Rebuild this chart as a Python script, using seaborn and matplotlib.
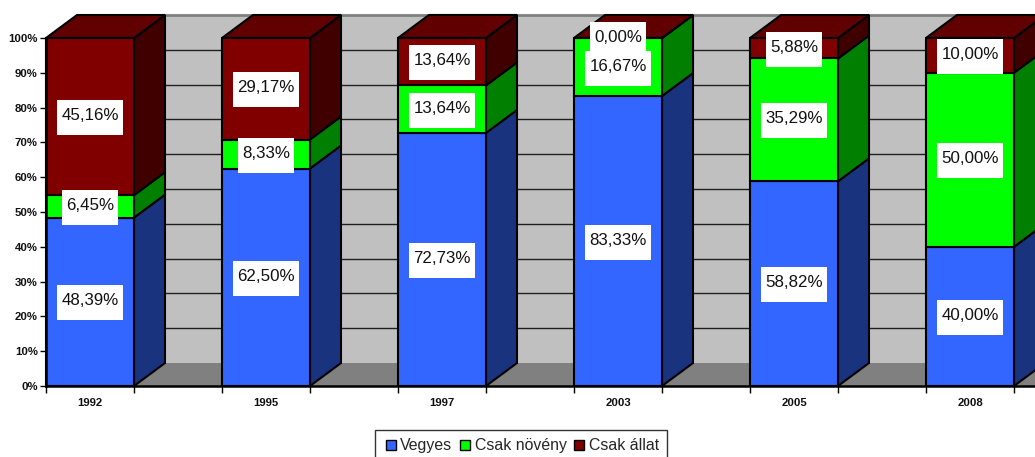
import matplotlib
matplotlib.use('Agg')
import matplotlib.pyplot as plt
from matplotlib.lines import Line2D
from matplotlib.patches import Rectangle
from matplotlib.transforms import IdentityTransform, offset_copy
import seaborn as sns

years = ['1992', '1995', '1997', '2003', '2005', '2008']
vegyes = [48.39, 62.50, 72.73, 83.33, 58.82, 40.00]
noveny = [6.45, 8.33, 13.64, 16.67, 35.29, 50.00]
allat = [45.16, 29.17, 13.64, 0.00, 5.88, 10.00]
series_names = ['Vegyes', 'Csak növény', 'Csak állat']
y_ticks = [0, 10, 20, 30, 40, 50, 60, 70, 80, 90, 100]

front = ['#3366FF', '#00FF00', '#800000']
side = ['#1A337F', '#007F00', '#400000']
top_col = '#600000'

sns.set_style('white')
plt.rcParams['font.family'] = ['Liberation Sans', 'DejaVu Sans']

W, H = 1035, 457
fig = plt.figure(figsize=(W / 100, H / 100), dpi=100)
ax = fig.add_axes([46 / W, (H - 386) / H, (W - 46) / W, 348 / H])
ax.patch.set_alpha(0)

bar_w = 0.5
xmin, xmax = -0.25, (W - 90) / 176
dx = 31 / 176  # depth of the fake 3d, in axis units
dy = 23 / 3.48

# back wall and floor
ax.fill([xmin + dx, xmax + 1, xmax + 1, xmin + dx], [dy, dy, 100 + dy, 100 + dy],
        color='#C0C0C0', lw=0, zorder=0.2, clip_on=False)
ax.fill([xmin, xmax + 1, xmax + 1, xmin + dx], [0, 0, dy, dy],
        color='#808080', lw=0, zorder=0.3, clip_on=False)
for v in y_ticks[1:-1]:
    ax.plot([xmin + dx, xmax + 1], [v + dy, v + dy], color='#202020', lw=1, zorder=0.4, clip_on=False)
ax.plot([xmin + dx, xmax + 1], [100 + dy, 100 + dy], color='#808080', lw=2, zorder=0.4, clip_on=False)

# stacked front faces
bottom = [0.0] * len(years)
columns = [vegyes, noveny, allat]
labels = []
for k, vals in enumerate(columns):
    sns.barplot(x=years, y=vals, bottom=bottom, order=years, color=front[k], saturation=1,
                width=bar_w, edgecolor='black', linewidth=1.5, ax=ax, zorder=3, clip_on=False)
    for i, v in enumerate(vals):
        x1 = i + bar_w / 2
        y0, y1 = bottom[i], bottom[i] + v
        ax.fill([x1, x1 + dx, x1 + dx, x1], [y0, y0 + dy, y1 + dy, y1], facecolor=side[k],
                edgecolor='black', lw=1.5, zorder=2, clip_on=False)
        labels.append((i, (y0 + y1) / 2, f'{v:.2f}%'.replace('.', ','), k))
    bottom = [b + v for b, v in zip(bottom, vals)]

# top faces
for i, b in enumerate(bottom):
    x0, x1 = i - bar_w / 2, i + bar_w / 2
    ax.fill([x0, x1, x1 + dx, x0 + dx], [b, b, b + dy, b + dy], facecolor=top_col,
            edgecolor='black', lw=1.5, zorder=2, clip_on=False)

ax.set_xlim(xmin, xmax)
ax.set_ylim(0, 100)
ax.set_yticks(y_ticks)
ax.set_yticklabels([f'{v}%' for v in y_ticks], fontweight='bold', fontsize=8.2, color='#111111')
ax.set_xticks(range(len(years)))
ax.set_xticklabels(years, fontweight='bold', fontsize=8.2, color='#111111')
ax.set_xticks([i + s * bar_w / 2 for i in range(len(years)) for s in (-1, 1)], minor=True)
ax.tick_params(axis='x', which='major', length=0, pad=9)
ax.tick_params(axis='x', which='minor', length=5, width=1, color='black', bottom=True)
ax.tick_params(axis='y', length=4, width=1, color='black', left=True, pad=2)
ax.set_xlabel('')
sns.despine(ax=ax, top=True, right=True)
for s in ['left', 'bottom']:
    ax.spines[s].set_color('black')
    ax.spines[s].set_linewidth(1.8)
    ax.spines[s].set_zorder(4)

# white value boxes, a fixed height around the measured text
text_tr = offset_copy(ax.transData, fig=fig, y=1, units='dots')
texts = []
for i, y, s, k in labels:
    t = ax.text(i, y, s, ha='center', va='center', fontsize=12.2, color='#111111',
                zorder=5 + k * 2 + 1, transform=text_tr)
    texts.append((t, k))
fig.canvas.draw()
rend = fig.canvas.get_renderer()
for t, k in texts:
    bb = t.get_window_extent(rend)
    cy = ax.transData.transform(t.get_position())[1] - 1
    ax.add_patch(Rectangle((bb.x0 - 4, cy - 17.5), bb.width + 8, 35, facecolor='white', edgecolor='none',
                           transform=IdentityTransform(), zorder=5 + k * 2, clip_on=False))

# legend
handles = [Line2D([], [], marker='s', ls='', ms=7, mfc=c, mec='black', mew=1) for c in front]
fig.legend(handles, series_names, loc='lower left', bbox_to_anchor=(375 / W, -4 / H), ncol=3, fontsize=11.4,
           frameon=True, fancybox=False, framealpha=1, edgecolor='#333333', borderpad=0.5, handletextpad=0.1,
           columnspacing=0.3, handlelength=1.0, borderaxespad=0)

fig.savefig('out.png', dpi=100)
